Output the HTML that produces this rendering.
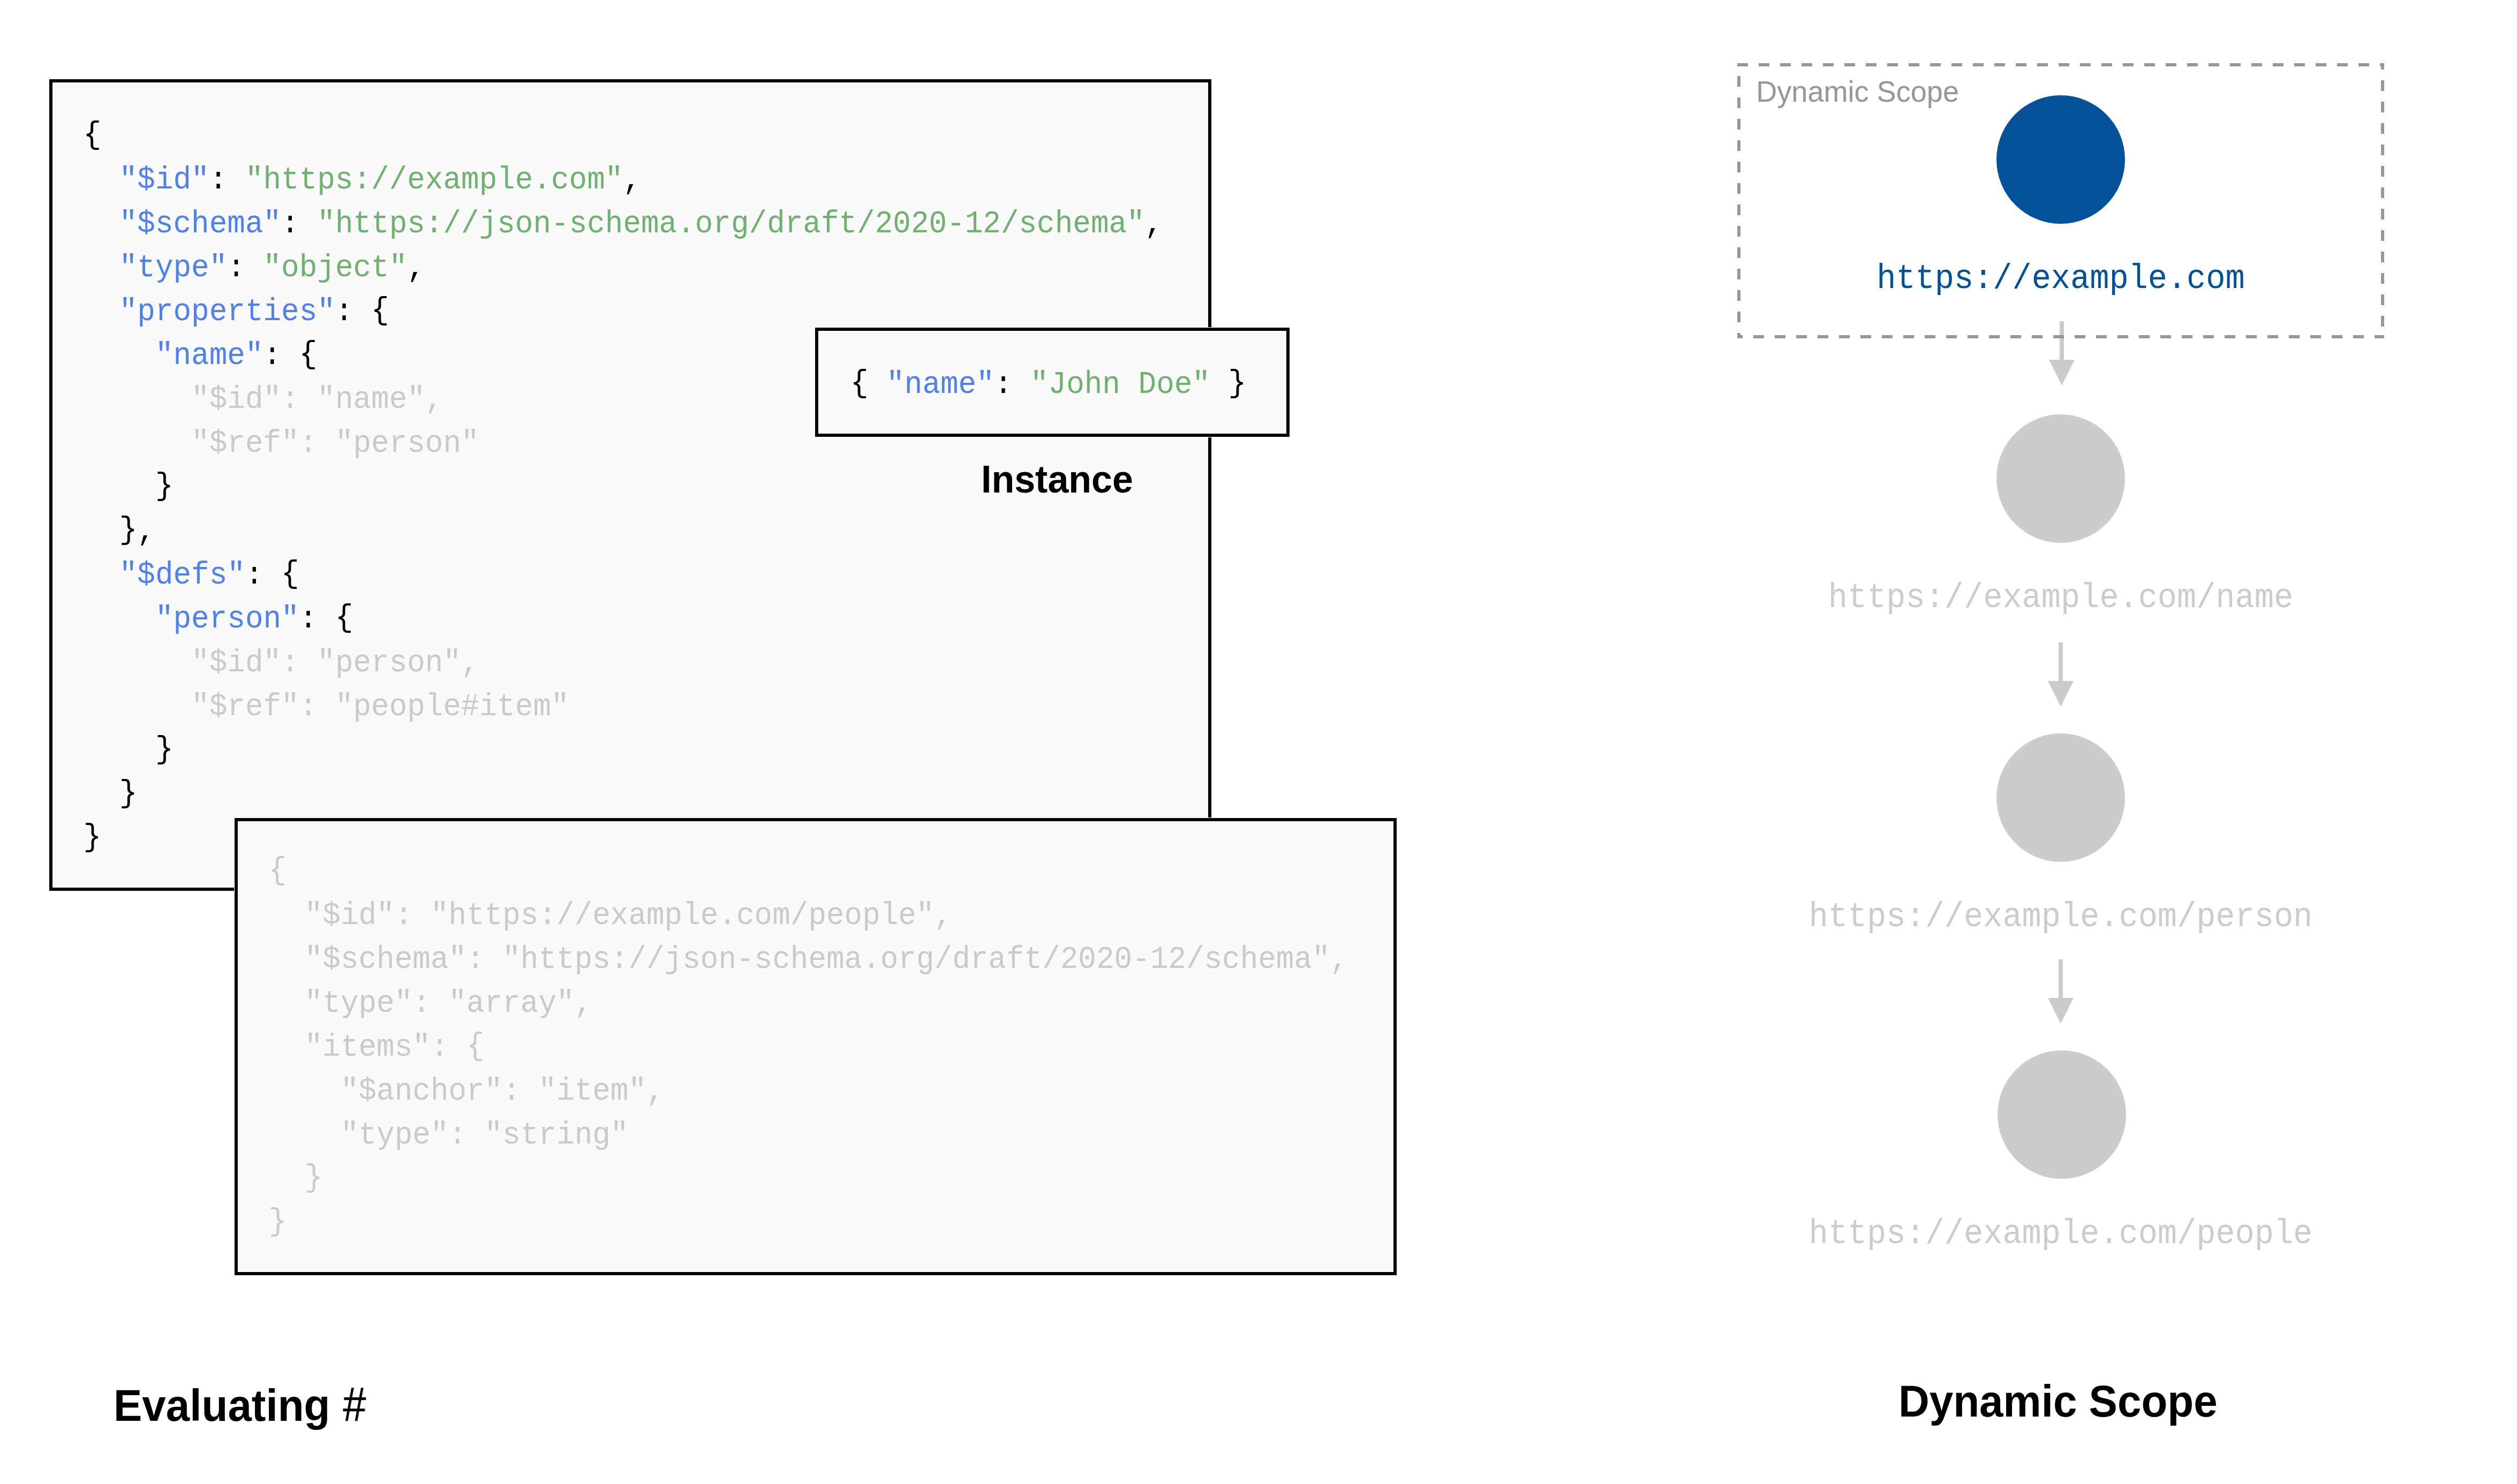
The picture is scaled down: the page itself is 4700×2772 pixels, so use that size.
<!DOCTYPE html>
<html><head><meta charset="utf-8"><title>Evaluating # - Dynamic Scope</title><style>
html,body{margin:0;padding:0;background:#fff;}
body{width:4700px;height:2772px;overflow:hidden;position:relative;}
svg{position:absolute;left:0;top:0;display:block;}
.m{font-family:"Liberation Mono",monospace;}
.s{font-family:"Liberation Sans",sans-serif;}
</style></head><body>
<svg width="4700" height="2772" viewBox="0 0 4700 2772">
<rect x="91" y="147" width="2172" height="1518" fill="#fff"/><rect x="92" y="148" width="2170" height="1516" fill="#000"/><rect x="98" y="154" width="2158" height="1504" fill="#fff"/><rect x="99" y="155" width="2157" height="1502" fill="#f9f9f9"/>
<g class="m">
<text transform="translate(155.50 269.65) scale(1 1.06)" font-size="56" xml:space="preserve"><tspan fill="#000" y="-2.0">{</tspan></text>
<text transform="translate(222.71 351.65) scale(1 1.06)" font-size="56" xml:space="preserve"><tspan fill="#4f81ee" y="0">"$id"</tspan><tspan fill="#000" y="0">: </tspan><tspan fill="#6fb16f" y="0">"https://example.com"</tspan><tspan fill="#000" y="0">,</tspan></text>
<text transform="translate(222.71 433.65) scale(1 1.06)" font-size="56" xml:space="preserve"><tspan fill="#4f81ee" y="0">"$schema"</tspan><tspan fill="#000" y="0">: </tspan><tspan fill="#6fb16f" y="0">"https://json-schema.org/draft/2020-12/schema"</tspan><tspan fill="#000" y="0">,</tspan></text>
<text transform="translate(222.71 515.65) scale(1 1.06)" font-size="56" xml:space="preserve"><tspan fill="#4f81ee" y="0">"type"</tspan><tspan fill="#000" y="0">: </tspan><tspan fill="#6fb16f" y="0">"object"</tspan><tspan fill="#000" y="0">,</tspan></text>
<text transform="translate(222.71 597.65) scale(1 1.06)" font-size="56" xml:space="preserve"><tspan fill="#4f81ee" y="0">"properties"</tspan><tspan fill="#000" y="0">: </tspan><tspan fill="#000" y="-2.0">{</tspan></text>
<text transform="translate(289.92 679.65) scale(1 1.06)" font-size="56" xml:space="preserve"><tspan fill="#4f81ee" y="0">"name"</tspan><tspan fill="#000" y="0">: </tspan><tspan fill="#000" y="-2.0">{</tspan></text>
<text transform="translate(357.13 761.65) scale(1 1.06)" font-size="56" xml:space="preserve"><tspan fill="#cacaca" y="0">"$id": "name",</tspan></text>
<text transform="translate(357.13 843.65) scale(1 1.06)" font-size="56" xml:space="preserve"><tspan fill="#cacaca" y="0">"$ref": "person"</tspan></text>
<text transform="translate(289.92 925.65) scale(1 1.06)" font-size="56" xml:space="preserve"><tspan fill="#000" y="-2.0">}</tspan></text>
<text transform="translate(222.71 1007.65) scale(1 1.06)" font-size="56" xml:space="preserve"><tspan fill="#000" y="-2.0">}</tspan><tspan fill="#000" y="0">,</tspan></text>
<text transform="translate(222.71 1089.65) scale(1 1.06)" font-size="56" xml:space="preserve"><tspan fill="#4f81ee" y="0">"$defs"</tspan><tspan fill="#000" y="0">: </tspan><tspan fill="#000" y="-2.0">{</tspan></text>
<text transform="translate(289.92 1171.65) scale(1 1.06)" font-size="56" xml:space="preserve"><tspan fill="#4f81ee" y="0">"person"</tspan><tspan fill="#000" y="0">: </tspan><tspan fill="#000" y="-2.0">{</tspan></text>
<text transform="translate(357.13 1253.65) scale(1 1.06)" font-size="56" xml:space="preserve"><tspan fill="#cacaca" y="0">"$id": "person",</tspan></text>
<text transform="translate(357.13 1335.65) scale(1 1.06)" font-size="56" xml:space="preserve"><tspan fill="#cacaca" y="0">"$ref": "people#item"</tspan></text>
<text transform="translate(289.92 1417.65) scale(1 1.06)" font-size="56" xml:space="preserve"><tspan fill="#000" y="-2.0">}</tspan></text>
<text transform="translate(222.71 1499.65) scale(1 1.06)" font-size="56" xml:space="preserve"><tspan fill="#000" y="-2.0">}</tspan></text>
<text transform="translate(155.50 1581.65) scale(1 1.06)" font-size="56" xml:space="preserve"><tspan fill="#000" y="-2.0">}</tspan></text>
</g>
<rect x="1521" y="611" width="888" height="206" fill="#fff"/><rect x="1522" y="612" width="886" height="204" fill="#000"/><rect x="1528" y="618" width="874" height="192" fill="#fff"/><rect x="1529" y="619" width="872" height="190" fill="#f9f9f9"/>
<g class="m"><text transform="translate(1588.00 733.80) scale(1 1.06)" font-size="56" xml:space="preserve"><tspan fill="#000" y="-2.0">{</tspan><tspan fill="#000" y="0"> </tspan><tspan fill="#4f81ee" y="0">"name"</tspan><tspan fill="#000" y="0">: </tspan><tspan fill="#6fb16f" y="0">"John Doe"</tspan><tspan fill="#000" y="0"> </tspan><tspan fill="#000" y="-2.0">}</tspan></text></g>
<text class="s" transform="translate(1832 920) scale(1 1.045)" font-size="70" font-weight="bold" fill="#000">Instance</text>
<rect x="437" y="1527" width="2172" height="856" fill="#fff"/><rect x="438" y="1528" width="2170" height="854" fill="#000"/><rect x="444" y="1534" width="2158" height="842" fill="#fff"/><rect x="445" y="1535" width="2156" height="840" fill="#f9f9f9"/>
<g class="m">
<text transform="translate(501.50 1643.80) scale(1 1.06)" font-size="56" xml:space="preserve"><tspan fill="#cacaca" y="-2.0">{</tspan></text>
<text transform="translate(568.71 1725.80) scale(1 1.06)" font-size="56" xml:space="preserve"><tspan fill="#cacaca" y="0">"$id": "https://example.com/people",</tspan></text>
<text transform="translate(568.71 1807.80) scale(1 1.06)" font-size="56" xml:space="preserve"><tspan fill="#cacaca" y="0">"$schema": "https://json-schema.org/draft/2020-12/schema",</tspan></text>
<text transform="translate(568.71 1889.80) scale(1 1.06)" font-size="56" xml:space="preserve"><tspan fill="#cacaca" y="0">"type": "array",</tspan></text>
<text transform="translate(568.71 1971.80) scale(1 1.06)" font-size="56" xml:space="preserve"><tspan fill="#cacaca" y="0">"items": </tspan><tspan fill="#cacaca" y="-2.0">{</tspan></text>
<text transform="translate(635.92 2053.80) scale(1 1.06)" font-size="56" xml:space="preserve"><tspan fill="#cacaca" y="0">"$anchor": "item",</tspan></text>
<text transform="translate(635.92 2135.80) scale(1 1.06)" font-size="56" xml:space="preserve"><tspan fill="#cacaca" y="0">"type": "string"</tspan></text>
<text transform="translate(568.71 2217.80) scale(1 1.06)" font-size="56" xml:space="preserve"><tspan fill="#cacaca" y="-2.0">}</tspan></text>
<text transform="translate(501.50 2299.80) scale(1 1.06)" font-size="56" xml:space="preserve"><tspan fill="#cacaca" y="-2.0">}</tspan></text>
</g>
<text class="s" transform="translate(212 2654) scale(1 1.045)" font-size="80" font-weight="bold" fill="#000">Evaluating</text>
<text class="s" transform="translate(640.5 2653.9) scale(0.965 1.113)" font-size="80" fill="#000" stroke="#000" stroke-width="0.5">#</text>
<text class="s" transform="translate(3545 2646) scale(1 1.045)" font-size="80" font-weight="bold" fill="#000">Dynamic Scope</text>
<rect x="3846" y="600" width="8" height="73" fill="#cbcbcb"/>
<polygon points="3826,672 3874,672 3850,720" fill="#cbcbcb"/>
<rect x="3844" y="1200" width="8" height="73" fill="#cbcbcb"/>
<polygon points="3824,1272 3872,1272 3848,1320" fill="#cbcbcb"/>
<rect x="3844" y="1792" width="8" height="73" fill="#cbcbcb"/>
<polygon points="3824,1864 3872,1864 3848,1912" fill="#cbcbcb"/>
<g fill="#979797"><rect x="3244" y="118" width="20" height="6"/><rect x="3284" y="118" width="20" height="6"/><rect x="3324" y="118" width="20" height="6"/><rect x="3364" y="118" width="20" height="6"/><rect x="3404" y="118" width="20" height="6"/><rect x="3444" y="118" width="20" height="6"/><rect x="3484" y="118" width="20" height="6"/><rect x="3524" y="118" width="20" height="6"/><rect x="3564" y="118" width="20" height="6"/><rect x="3604" y="118" width="20" height="6"/><rect x="3644" y="118" width="20" height="6"/><rect x="3684" y="118" width="20" height="6"/><rect x="3724" y="118" width="20" height="6"/><rect x="3764" y="118" width="20" height="6"/><rect x="3804" y="118" width="20" height="6"/><rect x="3844" y="118" width="20" height="6"/><rect x="3884" y="118" width="20" height="6"/><rect x="3924" y="118" width="20" height="6"/><rect x="3964" y="118" width="20" height="6"/><rect x="4004" y="118" width="20" height="6"/><rect x="4044" y="118" width="20" height="6"/><rect x="4084" y="118" width="20" height="6"/><rect x="4124" y="118" width="20" height="6"/><rect x="4164" y="118" width="20" height="6"/><rect x="4204" y="118" width="20" height="6"/><rect x="4244" y="118" width="20" height="6"/><rect x="4284" y="118" width="20" height="6"/><rect x="4324" y="118" width="20" height="6"/><rect x="4364" y="118" width="20" height="6"/><rect x="4404" y="118" width="20" height="6"/><rect x="4444" y="118" width="8" height="6"/><rect x="4446" y="118" width="6" height="12"/><rect x="4446" y="150" width="6" height="20"/><rect x="4446" y="190" width="6" height="20"/><rect x="4446" y="230" width="6" height="20"/><rect x="4446" y="270" width="6" height="20"/><rect x="4446" y="310" width="6" height="20"/><rect x="4446" y="350" width="6" height="20"/><rect x="4446" y="390" width="6" height="20"/><rect x="4446" y="430" width="6" height="20"/><rect x="4446" y="470" width="6" height="20"/><rect x="4446" y="510" width="6" height="20"/><rect x="4446" y="550" width="6" height="20"/><rect x="4446" y="590" width="6" height="20"/><rect x="3274" y="626" width="20" height="6"/><rect x="3314" y="626" width="20" height="6"/><rect x="3354" y="626" width="20" height="6"/><rect x="3394" y="626" width="20" height="6"/><rect x="3434" y="626" width="20" height="6"/><rect x="3474" y="626" width="20" height="6"/><rect x="3514" y="626" width="20" height="6"/><rect x="3554" y="626" width="20" height="6"/><rect x="3594" y="626" width="20" height="6"/><rect x="3634" y="626" width="20" height="6"/><rect x="3674" y="626" width="20" height="6"/><rect x="3714" y="626" width="20" height="6"/><rect x="3754" y="626" width="20" height="6"/><rect x="3794" y="626" width="20" height="6"/><rect x="3834" y="626" width="20" height="6"/><rect x="3874" y="626" width="20" height="6"/><rect x="3914" y="626" width="20" height="6"/><rect x="3954" y="626" width="20" height="6"/><rect x="3994" y="626" width="20" height="6"/><rect x="4034" y="626" width="20" height="6"/><rect x="4074" y="626" width="20" height="6"/><rect x="4114" y="626" width="20" height="6"/><rect x="4154" y="626" width="20" height="6"/><rect x="4194" y="626" width="20" height="6"/><rect x="4234" y="626" width="20" height="6"/><rect x="4274" y="626" width="20" height="6"/><rect x="4314" y="626" width="20" height="6"/><rect x="4354" y="626" width="20" height="6"/><rect x="4394" y="626" width="20" height="6"/><rect x="4434" y="626" width="18" height="6"/><rect x="3244" y="626" width="10" height="6"/><rect x="3244" y="622" width="6" height="10"/><rect x="3244" y="142" width="6" height="20"/><rect x="3244" y="182" width="6" height="20"/><rect x="3244" y="222" width="6" height="20"/><rect x="3244" y="262" width="6" height="20"/><rect x="3244" y="302" width="6" height="20"/><rect x="3244" y="342" width="6" height="20"/><rect x="3244" y="382" width="6" height="20"/><rect x="3244" y="422" width="6" height="20"/><rect x="3244" y="462" width="6" height="20"/><rect x="3244" y="502" width="6" height="20"/><rect x="3244" y="542" width="6" height="20"/><rect x="3244" y="582" width="6" height="20"/></g>
<text class="s" transform="translate(3279.2 189.6) scale(1 1.03)" font-size="54.1" fill="#979797">Dynamic Scope</text>
<circle cx="3848" cy="298" r="120" fill="#035299"/>
<circle cx="3848" cy="894" r="120" fill="#cccccc"/>
<circle cx="3848" cy="1490" r="120" fill="#cccccc"/>
<circle cx="3850" cy="2082" r="120" fill="#cccccc"/>
<text class="m" transform="translate(3504.23 537.9) scale(1 1.06)" font-size="60.3" fill="#035299">https://example.com</text>
<text class="m" transform="translate(3413.77 1133.7) scale(1 1.06)" font-size="60.3" fill="#cccccc">https://example.com/name</text>
<text class="m" transform="translate(3377.58 1729.75) scale(1 1.06)" font-size="60.3" fill="#cccccc">https://example.com/person</text>
<text class="m" transform="translate(3377.58 2321.8) scale(1 1.06)" font-size="60.3" fill="#cccccc">https://example.com/people</text>
</svg></body></html>
